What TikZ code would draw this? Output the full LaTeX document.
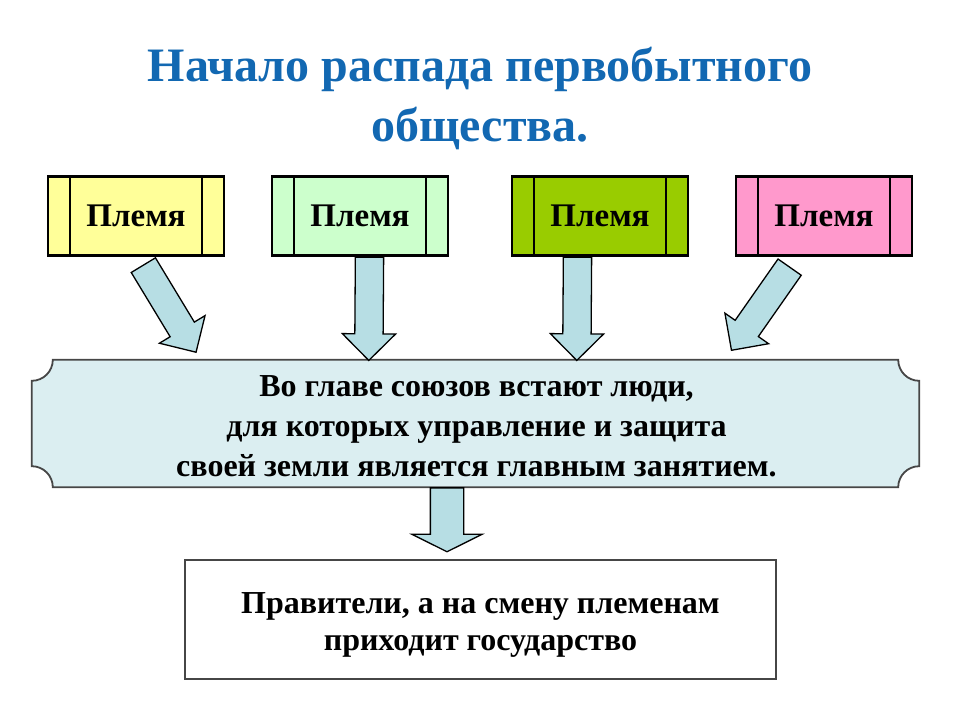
\documentclass[tikz,border=0pt]{standalone}
\usepackage{fontspec}
\setmainfont{Liberation Serif}
\usetikzlibrary{calc,shapes.arrows}
\definecolor{titleblue}{RGB}{18,104,178}
\definecolor{tribeA}{RGB}{255,255,153}
\definecolor{tribeB}{RGB}{204,255,204}
\definecolor{tribeC}{RGB}{153,204,0}
\definecolor{tribeD}{RGB}{255,153,204}
\definecolor{arrfill}{RGB}{183,222,228}
\definecolor{leadfill}{RGB}{219,238,241}
\definecolor{rim}{RGB}{70,70,70}
\tikzset{
  tribe/.style={draw=black,line width=2.2pt,minimum width=176pt,minimum height=79pt,
    font=\fontsize{33}{38}\selectfont\bfseries,
    path picture={\draw[line width=2.2pt]
      ([xshift=22pt]path picture bounding box.north west) -- ([xshift=22pt]path picture bounding box.south west)
      ([xshift=-22pt]path picture bounding box.north east) -- ([xshift=-22pt]path picture bounding box.south east);}},
  barrow/.style={single arrow,draw=black,fill=arrfill,line width=1.3pt,inner xsep=0pt,
    inner ysep=13.5pt,single arrow head extend=12.5pt},
  txt/.style={align=center,font=\fontsize{32}{40}\selectfont\bfseries},
}
\newcommand{\blockarrow}[3][]{%
  \path let \p1=($(#3)-(#2)$), \n1={atan2(\y1,\x1)}, \n2={veclen(\x1,\y1)} in
    node[barrow,#1,anchor=tail,minimum height=\n2,rotate=\n1] at (#2) {};}

\begin{document}
\begin{tikzpicture}[x=1pt,y=1pt]
  \useasboundingbox (0,0) rectangle (960,-720);
  % title
  \node[align=center,text=titleblue,font=\fontsize{48}{60}\selectfont\bfseries] (title) at (480,-98)
    {Начало распада первобытного\\общества.};
  % tribes
  \node[tribe,fill=tribeA] (t1) at (136,-216) {Племя};
  \node[tribe,fill=tribeB] (t2) at (360,-216) {Племя};
  \node[tribe,fill=tribeC] (t3) at (600,-216) {Племя};
  \node[tribe,fill=tribeD] (t4) at (824,-216) {Племя};
  % union leaders
  \node[minimum width=887pt,minimum height=127pt] (lead) at (475.5,-423.5) {};
  \draw[rim,fill=leadfill,line width=1.8pt]
    ([xshift=21pt]lead.north west) -- ([xshift=-21pt]lead.north east) arc (180:270:21)
    -- ([yshift=21pt]lead.south east) arc (90:180:21)
    -- ([xshift=21pt]lead.south west) arc (0:90:21)
    -- ([yshift=-21pt]lead.north west) arc (270:360:21) -- cycle;
  \node[txt] (leadtext) at ($(lead)+(1,-3)$)
    {Во главе союзов встают люди,\\для которых управление и защита\\своей земли является главным занятием.};
  % rulers
  \node[draw=rim,line width=1.8pt,fill=white,minimum width=591pt,minimum height=119pt] (rule)
    at (480.5,-619.5) {};
  \node[txt,font=\fontsize{32}{37}\selectfont\bfseries] (ruletext) at ($(rule)+(0,-5)$)
    {Правители, а на смену племенам\\приходит государство};
  % arrows
  \coordinate (s1) at ($(t1.south)+(7,-8)$);
  \coordinate (e1) at ($(lead.north west)+(164,8)$);
  \coordinate (s2) at ($(t2.south)+(9.5,0)$);
  \coordinate (e2) at ($(lead.north west)+(337,0)$);
  \coordinate (s3) at ($(t3.south)+(-22.5,0)$);
  \coordinate (e3) at ($(lead.north west)+(545,0)$);
  \coordinate (s4) at ($(t4.south)+(-34,-10)$);
  \coordinate (e4) at ($(lead.north west)+(700,10)$);
  \coordinate (s5) at ($(lead.south)+(-28.5,0)$);
  \coordinate (e5) at ($(rule.north)+(-33.5,8)$);
  \blockarrow{s1}{e1}
  \blockarrow{s2}{e2}
  \blockarrow{s3}{e3}
  \blockarrow{s4}{e4}
  \blockarrow[inner ysep=16pt,single arrow head extend=18.5pt,single arrow tip angle=127]{s5}{e5}
\end{tikzpicture}
\end{document}
